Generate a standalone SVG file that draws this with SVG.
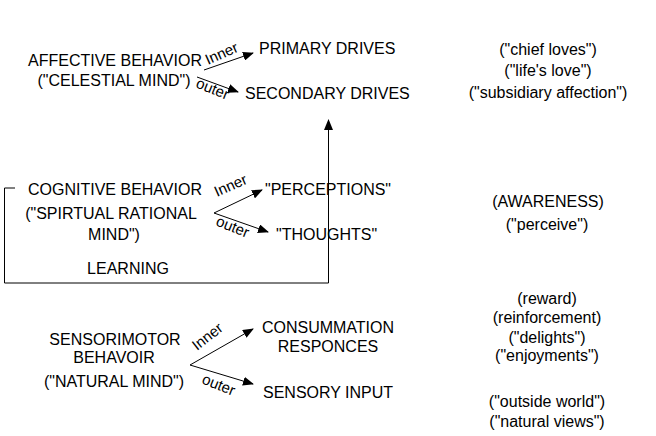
<svg xmlns="http://www.w3.org/2000/svg" width="656" height="436" viewBox="0 0 656 436">
<style>
text{font-family:"Liberation Sans",Arial,sans-serif;font-size:16px;fill:#000}
.lb{font-size:15px}
.c{text-anchor:middle}
line,polyline{stroke:#000;stroke-width:1;fill:none}
</style>
<defs>
<marker id="ah" markerWidth="11" markerHeight="9" refX="10" refY="4.5" orient="auto" markerUnits="userSpaceOnUse">
<path d="M0,0 L11,4.5 L0,9 Z" fill="#000"/>
</marker>
</defs>
<rect width="656" height="436" fill="#fff"/>
<g id="affective">
<text x="115" y="66" class="c">AFFECTIVE BEHAVIOR</text>
<text x="114" y="86" class="c">("CELESTIAL MIND")</text>
</g>
<g id="primary"><text x="259" y="54">PRIMARY DRIVES</text></g>
<g id="secondary"><text x="245" y="99">SECONDARY DRIVES</text></g>
<g id="cognitive">
<text x="115" y="195" class="c">COGNITIVE BEHAVIOR</text>
<text x="111" y="219" class="c">("SPIRTUAL RATIONAL</text>
<text x="114" y="240" class="c">MIND")</text>
<text x="128" y="274" class="c">LEARNING</text>
</g>
<g id="perceptions"><text x="265" y="195">"PERCEPTIONS"</text></g>
<g id="thoughts"><text x="276" y="240">"THOUGHTS"</text></g>
<g id="sensorimotor">
<text x="115" y="345" class="c">SENSORIMOTOR</text>
<text x="114" y="363" class="c">BEHAVOIR</text>
<text x="114" y="387" class="c">("NATURAL MIND")</text>
</g>
<g id="consummation">
<text x="328" y="333" class="c">CONSUMMATION</text>
<text x="328" y="352" class="c">RESPONCES</text>
</g>
<g id="sensory"><text x="263" y="398">SENSORY INPUT</text></g>
<g id="notes">
<text x="548" y="55" class="c">("chief loves")</text>
<text x="548" y="76" class="c">("life's love")</text>
<text x="548" y="98" class="c">("subsidiary affection")</text>
<text x="548" y="207" class="c">(AWARENESS)</text>
<text x="547" y="230" class="c">("perceive")</text>
<text x="547" y="304" class="c">(reward)</text>
<text x="547" y="323" class="c">(reinforcement)</text>
<text x="547" y="343" class="c">("delights")</text>
<text x="547" y="361" class="c">("enjoyments")</text>
<text x="547" y="407" class="c">("outside world")</text>
<text x="547" y="427" class="c">("natural views")</text>
</g>
<g id="connectors">
<line x1="204" y1="70" x2="253" y2="53" marker-end="url(#ah)"/>
<line x1="197" y1="77" x2="238" y2="92" marker-end="url(#ah)"/>
<line x1="214" y1="213" x2="262" y2="190" marker-end="url(#ah)"/>
<line x1="214" y1="213" x2="268" y2="232" marker-end="url(#ah)"/>
<line x1="190" y1="365" x2="253" y2="329" marker-end="url(#ah)"/>
<line x1="190" y1="365" x2="253" y2="384" marker-end="url(#ah)"/>
<polyline points="15,188 4.5,188 4.5,283 328.5,283 328.5,120" marker-end="url(#ah)"/>
<text class="lb" transform="translate(208,65) rotate(-24)">Inner</text>
<text class="lb" transform="translate(195,87) rotate(22)">outer</text>
<text class="lb" transform="translate(217,197) rotate(-24)">Inner</text>
<text class="lb" transform="translate(215,225) rotate(22)">outer</text>
<text class="lb" transform="translate(197,351) rotate(-38)">Inner</text>
<text class="lb" transform="translate(201,383) rotate(22)">outer</text>
</g>
</svg>
